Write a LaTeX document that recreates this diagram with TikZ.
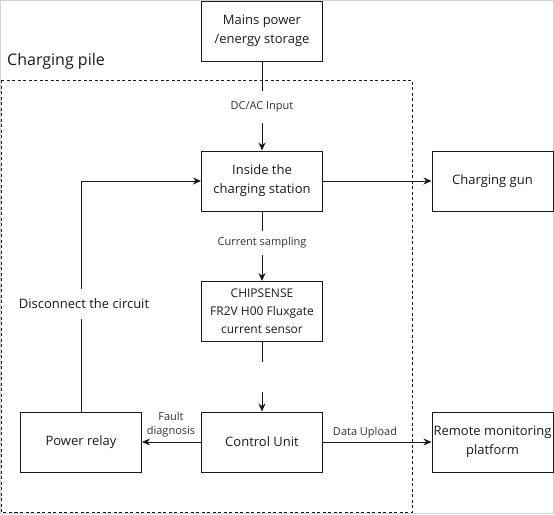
\documentclass[tikz,border=0pt]{standalone}
\usepackage{fontspec}
\setmainfont{Open Sans}
\usetikzlibrary{arrows.meta}
\definecolor{txt}{HTML}{1A1A1A}
\definecolor{lbl}{HTML}{333333}
\begin{document}
\begin{tikzpicture}[x=1pt,y=-1pt,
  box/.style={draw=txt,line width=1pt,minimum width=121pt,minimum height=60pt,inner sep=0pt,
    align=center,text=txt,font=\fontsize{13pt}{19pt}\selectfont},
  elabel/.style={fill=white,text=lbl,font=\fontsize{11pt}{14pt}\selectfont,align=center,inner xsep=1pt},
  conn/.style={draw=txt,line width=1pt},
  arr/.style={conn,-{Stealth[length=8pt,width=7pt]}}]
\useasboundingbox (0,0) rectangle (554,514);
\draw[gray!35,line width=1pt] (0.5,0.5) rectangle (553.5,513.5);
% frame
\draw[txt,line width=0.9pt,dash pattern=on 3pt off 2.5pt] (1,80) rectangle (412,512);
\node[anchor=west,text=txt,font=\fontsize{16pt}{18pt}\selectfont,inner sep=0pt] (pile) at (7,61) {Charging pile};
% boxes
\node[box] (mains) at (262,31) {Mains power\\/energy storage};
\node[box] (inside) at (262,181) {Inside the\\charging station};
\node[box] (gun) at (492.5,181) {Charging gun};
\node[box,font=\fontsize{12pt}{18pt}\selectfont] (sensor) at (262,311.5) {CHIPSENSE\\FR2V H00 Fluxgate\\current sensor};
\node[box] (ctrl) at (262,442) {Control Unit};
\node[box] (relay) at (81,442) {Power relay};
\node[box] (remote) at (492.5,442) {Remote monitoring\\platform};
% connectors
\draw[arr] (mains) -- (inside);
\node[elabel,minimum height=32pt] (dcac) at (262,107) {DC/AC Input};
\draw[arr] (inside) -- (sensor);
\node[elabel,minimum height=24pt] (cs) at (262,243) {Current sampling};
\draw[arr] (sensor) -- (ctrl);
\node[elabel,minimum height=30pt,minimum width=20pt] (blank) at (262,377) {};
\draw[arr] (inside) -- (gun);
\draw[arr] (relay.north) |- (inside.west);
\node[elabel,minimum height=30pt,text=txt,font=\fontsize{13pt}{16pt}\selectfont] (disc) at (84,304) {Disconnect the circuit};
\draw[arr] (ctrl) -- (relay);
\node[text=lbl,font=\fontsize{11pt}{14pt}\selectfont,align=center,inner sep=0pt] (fault) at (171,425) {Fault\\diagnosis};
\draw[arr] (ctrl) -- (remote);
\node[text=lbl,font=\fontsize{11pt}{14pt}\selectfont,inner sep=0pt] (up) at (365,433) {Data Upload};
\end{tikzpicture}
\end{document}
